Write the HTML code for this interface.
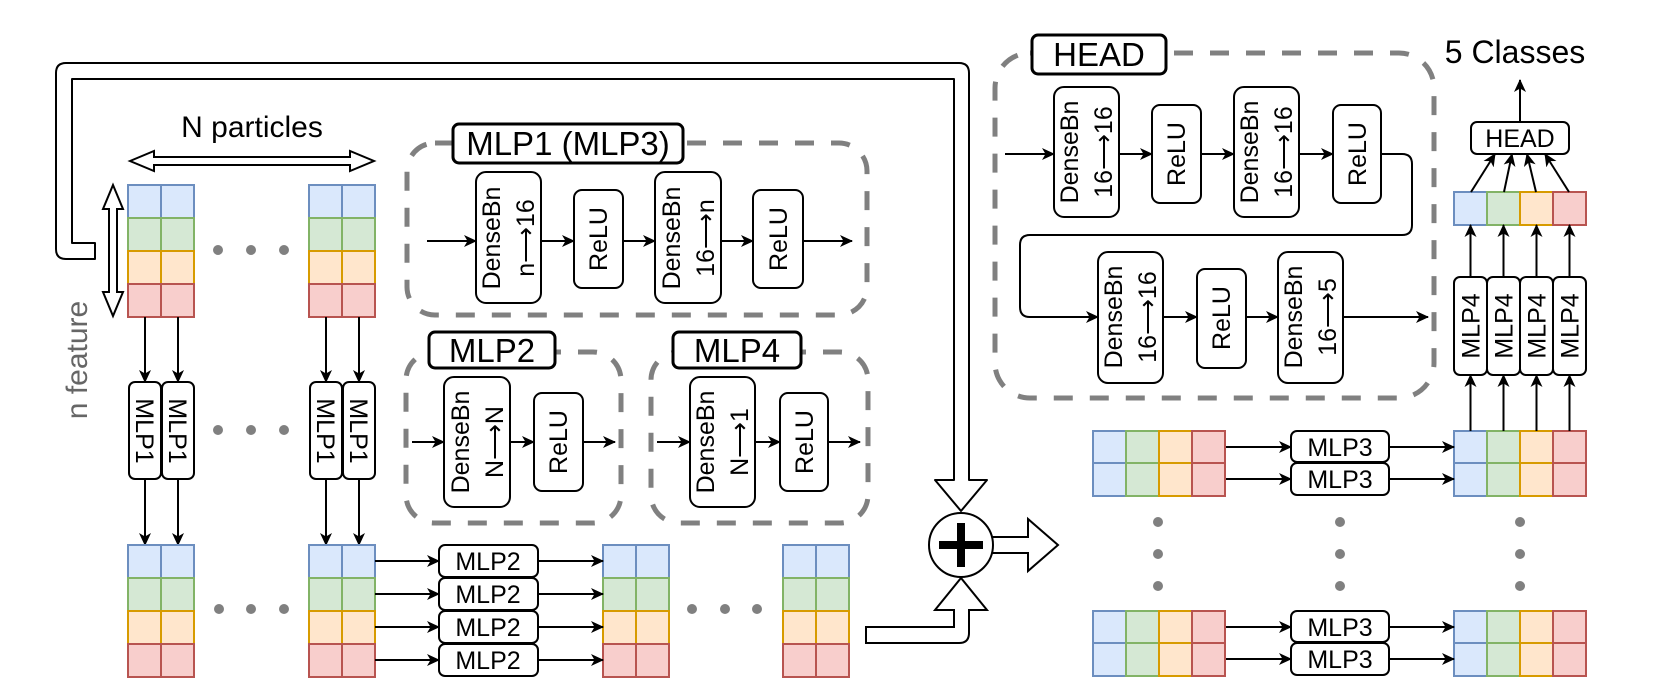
<!DOCTYPE html>
<html><head><meta charset="utf-8"><style>
html,body{margin:0;padding:0;background:#fff;}
svg{display:block;}
text{font-family:"Liberation Sans",Arial,sans-serif;}
</style></head><body>
<svg width="1661" height="697" viewBox="0 0 1661 697" xmlns="http://www.w3.org/2000/svg">
<defs>
<marker id="a" markerUnits="userSpaceOnUse" markerWidth="14" markerHeight="12" refX="12" refY="6" orient="auto">
<path d="M0,0 L13,6 L0,12 L3.5,6 z" fill="#000"/>
</marker>
<g id="cb"><rect width="33" height="33" fill="#dae8fc" stroke="#6c8ebf" stroke-width="2"/></g>
<g id="cg"><rect width="33" height="33" fill="#d5e8d4" stroke="#82b366" stroke-width="2"/></g>
<g id="co"><rect width="33" height="33" fill="#ffe6cc" stroke="#d79b00" stroke-width="2"/></g>
<g id="cr"><rect width="33" height="33" fill="#f8cecc" stroke="#b85450" stroke-width="2"/></g>
</defs>

<path d="M95,259 L66,259 Q56,259 56,249 L56,73 Q56,63 66,63 L959,63 Q969,63 969,73 L969,480 L987,480 L961,511 L935,480 L954,480 L954,79 L72,79 L72,243 L95,243 Z" fill="#fff" stroke="#000" stroke-width="2" stroke-linejoin="round"/>
<path d="M866,627 L954,627 L954,610 L935,610 L961,578 L987,610 L969,610 L969,633 Q969,643 959,643 L866,643 Z" fill="#fff" stroke="#000" stroke-width="2"/>
<path d="M988,537 L1028,537 L1028,519 L1058,545 L1028,571 L1028,553 L988,553 Z" fill="#fff" stroke="#000" stroke-width="2"/>
<circle cx="961" cy="545" r="32" fill="#fff" stroke="#000" stroke-width="2"/>
<rect x="939" y="541" width="44" height="8" fill="#000"/>
<rect x="957" y="523" width="8" height="44" fill="#000"/>

<text x="252" y="137" font-size="30" text-anchor="middle">N particles</text>
<path d="M130,161 L154,151 L154,157 L350,157 L350,151 L374,161 L350,171 L350,165 L154,165 L154,171 Z" fill="#fff" stroke="#000" stroke-width="2"/>
<path d="M113,185 L123,209 L117,209 L117,292 L123,292 L113,316 L103,292 L109,292 L109,209 L103,209 Z" fill="#fff" stroke="#000" stroke-width="2"/>
<text transform="translate(87,360) rotate(-90)" font-size="30" text-anchor="middle" fill="#666">n feature</text>

<use href="#cb" x="128" y="185"/><use href="#cb" x="161" y="185"/>
<use href="#cg" x="128" y="218"/><use href="#cg" x="161" y="218"/>
<use href="#co" x="128" y="251"/><use href="#co" x="161" y="251"/>
<use href="#cr" x="128" y="284"/><use href="#cr" x="161" y="284"/>
<use href="#cb" x="309" y="185"/><use href="#cb" x="342" y="185"/>
<use href="#cg" x="309" y="218"/><use href="#cg" x="342" y="218"/>
<use href="#co" x="309" y="251"/><use href="#co" x="342" y="251"/>
<use href="#cr" x="309" y="284"/><use href="#cr" x="342" y="284"/>
<g fill="#808080">
<circle cx="218" cy="250" r="5"/><circle cx="251" cy="250" r="5"/><circle cx="284" cy="250" r="5"/>
<circle cx="218" cy="430" r="5"/><circle cx="251" cy="430" r="5"/><circle cx="284" cy="430" r="5"/>
<circle cx="219" cy="609" r="5"/><circle cx="251" cy="609" r="5"/><circle cx="284" cy="609" r="5"/>
<circle cx="692" cy="609" r="5"/><circle cx="725" cy="609" r="5"/><circle cx="757" cy="609" r="5"/>
<circle cx="1158" cy="522" r="5"/><circle cx="1158" cy="554" r="5"/><circle cx="1158" cy="586" r="5"/>
<circle cx="1340" cy="522" r="5"/><circle cx="1340" cy="554" r="5"/><circle cx="1340" cy="586" r="5"/>
<circle cx="1520" cy="522" r="5"/><circle cx="1520" cy="554" r="5"/><circle cx="1520" cy="586" r="5"/>
</g>

<g stroke="#000" stroke-width="2" marker-end="url(#a)">
<line x1="145" y1="317" x2="145" y2="382"/><line x1="178" y1="317" x2="178" y2="382"/>
<line x1="326" y1="317" x2="326" y2="382"/><line x1="359" y1="317" x2="359" y2="382"/>
<line x1="145" y1="479" x2="145" y2="545"/><line x1="178" y1="479" x2="178" y2="545"/>
<line x1="326" y1="479" x2="326" y2="545"/><line x1="359" y1="479" x2="359" y2="545"/>
</g>
<g fill="#fff" stroke="#000" stroke-width="2">
<rect x="129" y="382" width="32" height="97" rx="6"/><rect x="162" y="382" width="32" height="97" rx="6"/>
<rect x="310" y="382" width="32" height="97" rx="6"/><rect x="343" y="382" width="32" height="97" rx="6"/>
</g>
<g font-size="25" text-anchor="middle">
<text transform="translate(145,431) rotate(90)" y="9">MLP1</text>
<text transform="translate(178,431) rotate(90)" y="9">MLP1</text>
<text transform="translate(326,431) rotate(90)" y="9">MLP1</text>
<text transform="translate(359,431) rotate(90)" y="9">MLP1</text>
</g>

<use href="#cb" x="128" y="545"/><use href="#cb" x="161" y="545"/>
<use href="#cg" x="128" y="578"/><use href="#cg" x="161" y="578"/>
<use href="#co" x="128" y="611"/><use href="#co" x="161" y="611"/>
<use href="#cr" x="128" y="644"/><use href="#cr" x="161" y="644"/>
<use href="#cb" x="309" y="545"/><use href="#cb" x="342" y="545"/>
<use href="#cg" x="309" y="578"/><use href="#cg" x="342" y="578"/>
<use href="#co" x="309" y="611"/><use href="#co" x="342" y="611"/>
<use href="#cr" x="309" y="644"/><use href="#cr" x="342" y="644"/>
<use href="#cb" x="603" y="545"/><use href="#cb" x="636" y="545"/>
<use href="#cg" x="603" y="578"/><use href="#cg" x="636" y="578"/>
<use href="#co" x="603" y="611"/><use href="#co" x="636" y="611"/>
<use href="#cr" x="603" y="644"/><use href="#cr" x="636" y="644"/>
<use href="#cb" x="783" y="545"/><use href="#cb" x="816" y="545"/>
<use href="#cg" x="783" y="578"/><use href="#cg" x="816" y="578"/>
<use href="#co" x="783" y="611"/><use href="#co" x="816" y="611"/>
<use href="#cr" x="783" y="644"/><use href="#cr" x="816" y="644"/>

<g stroke="#000" stroke-width="2" marker-end="url(#a)">
<line x1="375" y1="561" x2="439" y2="561"/><line x1="375" y1="594" x2="439" y2="594"/>
<line x1="375" y1="627" x2="439" y2="627"/><line x1="375" y1="660" x2="439" y2="660"/>
<line x1="538" y1="561" x2="603" y2="561"/><line x1="538" y1="594" x2="603" y2="594"/>
<line x1="538" y1="627" x2="603" y2="627"/><line x1="538" y1="660" x2="603" y2="660"/>
</g>
<g fill="#fff" stroke="#000" stroke-width="2">
<rect x="439" y="545" width="99" height="32" rx="6"/><rect x="439" y="578" width="99" height="32" rx="6"/>
<rect x="439" y="611" width="99" height="32" rx="6"/><rect x="439" y="644" width="99" height="32" rx="6"/>
</g>
<g font-size="25" text-anchor="middle">
<text x="488" y="570">MLP2</text><text x="488" y="603">MLP2</text>
<text x="488" y="636">MLP2</text><text x="488" y="669">MLP2</text>
</g>

<g fill="none" stroke="#808080" stroke-width="5" stroke-dasharray="19 17">
<rect x="407" y="143" width="460" height="172" rx="28"/>
<rect x="406" y="352" width="215" height="171" rx="28"/>
<rect x="651" y="352" width="217" height="171" rx="28"/>
<rect x="995" y="53" width="439" height="345" rx="35"/>
</g>
<g fill="#fff" stroke="#000" stroke-width="3">
<rect x="453" y="124" width="230" height="39" rx="6"/>
<rect x="429" y="332" width="126" height="36" rx="6"/>
<rect x="673" y="332" width="128" height="36" rx="6"/>
<rect x="1032" y="35" width="134" height="39" rx="6"/>
</g>
<g font-size="33" text-anchor="middle">
<text x="568" y="155">MLP1 (MLP3)</text>
<text x="492" y="362">MLP2</text>
<text x="737" y="362">MLP4</text>
<text x="1099" y="66">HEAD</text>
</g>

<g stroke="#000" stroke-width="2" marker-end="url(#a)">
<line x1="427" y1="241" x2="476" y2="241"/><line x1="541" y1="241" x2="574" y2="241"/>
<line x1="623" y1="241" x2="655" y2="241"/><line x1="721" y1="241" x2="753" y2="241"/>
<line x1="803" y1="241" x2="852" y2="241"/>
<line x1="412" y1="442" x2="444" y2="442"/><line x1="510" y1="442" x2="534" y2="442"/>
<line x1="583" y1="442" x2="615" y2="442"/>
<line x1="657" y1="442" x2="690" y2="442"/><line x1="755" y1="442" x2="780" y2="442"/>
<line x1="828" y1="442" x2="860" y2="442"/>
<line x1="1005" y1="154" x2="1054" y2="154"/><line x1="1119" y1="154" x2="1152" y2="154"/>
<line x1="1201" y1="154" x2="1234" y2="154"/><line x1="1299" y1="154" x2="1333" y2="154"/>
<path d="M1381,154 L1402,154 Q1412,154 1412,164 L1412,225 Q1412,235 1402,235 L1030,235 Q1020,235 1020,245 L1020,307 Q1020,317 1030,317 L1098,317" fill="none"/>
<line x1="1163" y1="317" x2="1197" y2="317"/><line x1="1246" y1="317" x2="1278" y2="317"/>
<line x1="1343" y1="317" x2="1428" y2="317"/>
</g>
<g fill="#fff" stroke="#000" stroke-width="2">
<rect x="476" y="172" width="65" height="131" rx="10"/>
<rect x="574" y="190" width="49" height="98" rx="8"/>
<rect x="655" y="172" width="66" height="131" rx="10"/>
<rect x="753" y="190" width="50" height="98" rx="8"/>
<rect x="444" y="377" width="66" height="130" rx="10"/>
<rect x="534" y="393" width="49" height="98" rx="8"/>
<rect x="690" y="377" width="65" height="130" rx="10"/>
<rect x="780" y="393" width="48" height="98" rx="8"/>
<rect x="1054" y="87" width="65" height="130" rx="10"/>
<rect x="1152" y="105" width="49" height="98" rx="8"/>
<rect x="1234" y="87" width="65" height="130" rx="10"/>
<rect x="1333" y="105" width="48" height="98" rx="8"/>
<rect x="1098" y="252" width="65" height="131" rx="10"/>
<rect x="1197" y="269" width="49" height="99" rx="8"/>
<rect x="1278" y="252" width="65" height="131" rx="10"/>
</g>
<g font-size="25" text-anchor="middle">
<text transform="translate(508,238) rotate(-90)"><tspan x="0" y="-8">DenseBn</tspan><tspan x="0" y="26">n⟶16</tspan></text>
<text transform="translate(598,239) rotate(-90)" y="9">ReLU</text>
<text transform="translate(688,238) rotate(-90)"><tspan x="0" y="-8">DenseBn</tspan><tspan x="0" y="26">16⟶n</tspan></text>
<text transform="translate(778,239) rotate(-90)" y="9">ReLU</text>
<text transform="translate(477,442) rotate(-90)"><tspan x="0" y="-8">DenseBn</tspan><tspan x="0" y="26">N⟶N</tspan></text>
<text transform="translate(558,442) rotate(-90)" y="9">ReLU</text>
<text transform="translate(722,442) rotate(-90)"><tspan x="0" y="-8">DenseBn</tspan><tspan x="0" y="26">N⟶1</tspan></text>
<text transform="translate(804,442) rotate(-90)" y="9">ReLU</text>
<text transform="translate(1086,152) rotate(-90)"><tspan x="0" y="-8">DenseBn</tspan><tspan x="0" y="26">16⟶16</tspan></text>
<text transform="translate(1176,154) rotate(-90)" y="9">ReLU</text>
<text transform="translate(1266,152) rotate(-90)"><tspan x="0" y="-8">DenseBn</tspan><tspan x="0" y="26">16⟶16</tspan></text>
<text transform="translate(1357,154) rotate(-90)" y="9">ReLU</text>
<text transform="translate(1130,317) rotate(-90)"><tspan x="0" y="-8">DenseBn</tspan><tspan x="0" y="26">16⟶16</tspan></text>
<text transform="translate(1221,318) rotate(-90)" y="9">ReLU</text>
<text transform="translate(1310,317) rotate(-90)"><tspan x="0" y="-8">DenseBn</tspan><tspan x="0" y="26">16⟶5</tspan></text>
</g>

<use href="#cb" x="1093" y="431"/><use href="#cg" x="1126" y="431"/><use href="#co" x="1159" y="431"/><use href="#cr" x="1192" y="431"/>
<use href="#cb" x="1093" y="463"/><use href="#cg" x="1126" y="463"/><use href="#co" x="1159" y="463"/><use href="#cr" x="1192" y="463"/>
<use href="#cb" x="1093" y="611"/><use href="#cg" x="1126" y="611"/><use href="#co" x="1159" y="611"/><use href="#cr" x="1192" y="611"/>
<use href="#cb" x="1093" y="643"/><use href="#cg" x="1126" y="643"/><use href="#co" x="1159" y="643"/><use href="#cr" x="1192" y="643"/>
<use href="#cb" x="1454" y="431"/><use href="#cg" x="1487" y="431"/><use href="#co" x="1520" y="431"/><use href="#cr" x="1553" y="431"/>
<use href="#cb" x="1454" y="463"/><use href="#cg" x="1487" y="463"/><use href="#co" x="1520" y="463"/><use href="#cr" x="1553" y="463"/>
<use href="#cb" x="1454" y="611"/><use href="#cg" x="1487" y="611"/><use href="#co" x="1520" y="611"/><use href="#cr" x="1553" y="611"/>
<use href="#cb" x="1454" y="643"/><use href="#cg" x="1487" y="643"/><use href="#co" x="1520" y="643"/><use href="#cr" x="1553" y="643"/>
<use href="#cb" x="1454" y="192"/><use href="#cg" x="1487" y="192"/><use href="#co" x="1520" y="192"/><use href="#cr" x="1553" y="192"/>

<g stroke="#000" stroke-width="2" marker-end="url(#a)">
<line x1="1226" y1="447" x2="1291" y2="447"/><line x1="1226" y1="479" x2="1291" y2="479"/>
<line x1="1226" y1="627" x2="1291" y2="627"/><line x1="1226" y1="659" x2="1291" y2="659"/>
<line x1="1389" y1="447" x2="1454" y2="447"/><line x1="1389" y1="479" x2="1454" y2="479"/>
<line x1="1389" y1="627" x2="1454" y2="627"/><line x1="1389" y1="659" x2="1454" y2="659"/>
<line x1="1470.5" y1="431" x2="1470.5" y2="375"/><line x1="1503.5" y1="431" x2="1503.5" y2="375"/>
<line x1="1536.5" y1="431" x2="1536.5" y2="375"/><line x1="1569.5" y1="431" x2="1569.5" y2="375"/>
<line x1="1470.5" y1="277" x2="1470.5" y2="225"/><line x1="1503.5" y1="277" x2="1503.5" y2="225"/>
<line x1="1536.5" y1="277" x2="1536.5" y2="225"/><line x1="1569.5" y1="277" x2="1569.5" y2="225"/>
<line x1="1471" y1="192" x2="1495" y2="154"/><line x1="1504" y1="192" x2="1512" y2="154"/>
<line x1="1536" y1="192" x2="1527" y2="154"/><line x1="1569" y1="192" x2="1545" y2="154"/>
<line x1="1520" y1="122" x2="1520" y2="80"/>
</g>
<g fill="#fff" stroke="#000" stroke-width="2">
<rect x="1291" y="431" width="98" height="31" rx="6"/><rect x="1291" y="463" width="98" height="32" rx="6"/>
<rect x="1291" y="611" width="98" height="31" rx="6"/><rect x="1291" y="643" width="98" height="32" rx="6"/>
<rect x="1454" y="277" width="33" height="98" rx="6"/><rect x="1487" y="277" width="33" height="98" rx="6"/>
<rect x="1520" y="277" width="33" height="98" rx="6"/><rect x="1553" y="277" width="33" height="98" rx="6"/>
<rect x="1471" y="122" width="98" height="32" rx="6"/>
</g>
<g font-size="25" text-anchor="middle">
<text x="1340" y="456">MLP3</text><text x="1340" y="488">MLP3</text>
<text x="1340" y="636">MLP3</text><text x="1340" y="668">MLP3</text>
<text transform="translate(1470.5,326) rotate(-90)" y="9">MLP4</text>
<text transform="translate(1503.5,326) rotate(-90)" y="9">MLP4</text>
<text transform="translate(1536.5,326) rotate(-90)" y="9">MLP4</text>
<text transform="translate(1569.5,326) rotate(-90)" y="9">MLP4</text>
<text x="1520" y="147">HEAD</text>
</g>
<text x="1515" y="63" font-size="32" text-anchor="middle">5 Classes</text>
</svg>
</body></html>
